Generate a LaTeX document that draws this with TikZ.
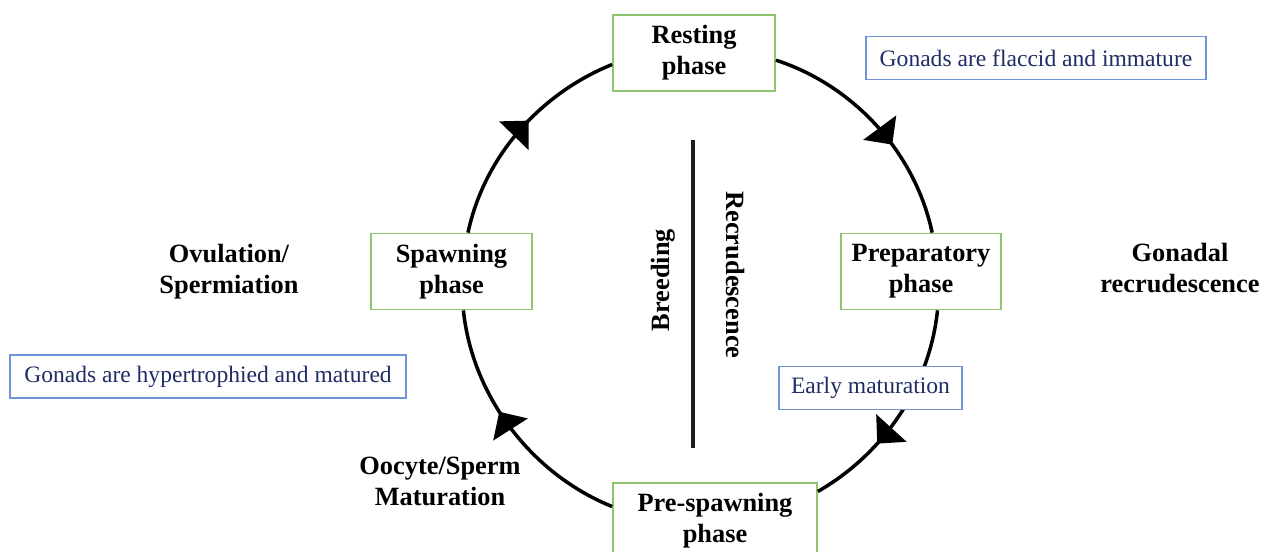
\documentclass[tikz,border=0pt]{standalone}
\usepackage{fontspec}
\setmainfont{Liberation Serif}
\usetikzlibrary{arrows.meta,positioning,decorations.markings}
\definecolor{phaseGreen}{RGB}{141, 198, 108}
\definecolor{noteBlue}{RGB}{111, 148, 216}
\definecolor{noteText}{RGB}{31, 45, 100}
\definecolor{barGray}{RGB}{30, 30, 30}

\begin{document}
\begin{tikzpicture}[
  phase/.style={
    draw=phaseGreen,
    line width=1pt,
    fill=white,
    minimum height=1.52cm,
    align=center,
    font=\fontsize{15}{17.6}\selectfont\bfseries
  },
  note/.style={
    draw=noteBlue,
    line width=1pt,
    fill=white,
    minimum height=0.86cm,
    text=noteText,
    font=\fontsize{13.4}{16}\selectfont
  },
  label/.style={align=center,font=\fontsize{15}{17.6}\selectfont\bfseries},
  cyclearc/.style={
    line width=2pt,
    looseness=0.9,
    postaction={decorate},
    decoration={markings,
      mark=at position #1 with {\arrow{Triangle[length=12pt,width=23pt]}}}
  },
  cyclearc/.default=0.58
]
  \useasboundingbox (0,0) rectangle (25.42,-11.04);

  % phases of the cycle
  \node[phase,minimum width=3.24cm] (resting) at (13.88,-1.06) {Resting\\phase};
  \node[phase,minimum width=3.2cm] (preparatory) at (18.42,-5.43) {Preparatory\\phase};
  \node[phase,minimum width=4.08cm] (prespawning) at (14.30,-10.42) {Pre-spawning\\phase};
  \node[phase,minimum width=3.22cm] (spawning) at (9.03,-5.43) {Spawning\\phase};

  % clockwise cycle
  \draw[cyclearc=0.6] (resting.-5) to[out=-18,in=102] (preparatory.74);
  \draw[cyclearc=0.66] (preparatory.-67) to[out=-96,in=30] (prespawning.16);
  \draw[cyclearc=0.58] (prespawning.172) to[out=158,in=-84] (spawning.-73);
  \draw[cyclearc=0.56] (spawning.67) to[out=78,in=-158] (resting.188);

  % notes
  \node[note,minimum width=6.8cm] (flaccid) at (20.72,-1.16)
    {Gonads are flaccid and immature};
  \node[note,minimum width=3.66cm] (early) at (17.41,-7.76)
    {Early maturation};
  \node[note,minimum width=7.92cm] (hyper) at (4.16,-7.53)
    {Gonads are hypertrophied and matured};

  % events
  \node[label] (ovulation) at (4.58,-5.44) {Ovulation/\\Spermiation};
  \node[label] (gonadal) at (23.6,-5.36) {Gonadal\\recrudescence};
  \node[label] (oocyte) at (8.8,-9.62) {Oocyte/Sperm\\Maturation};

  % centre divider
  \coordinate (bartop) at (13.86,-2.8);
  \coordinate (barbot) at (13.86,-8.96);
  \draw[barGray,line width=2.6pt] (bartop) -- (barbot);
  \node[label,rotate=90] (breeding) at (13.26,-5.6) {Breeding};
  \node[label,rotate=-90] (recrud) at (14.7,-5.5) {Recrudescence};
\end{tikzpicture}
\end{document}
